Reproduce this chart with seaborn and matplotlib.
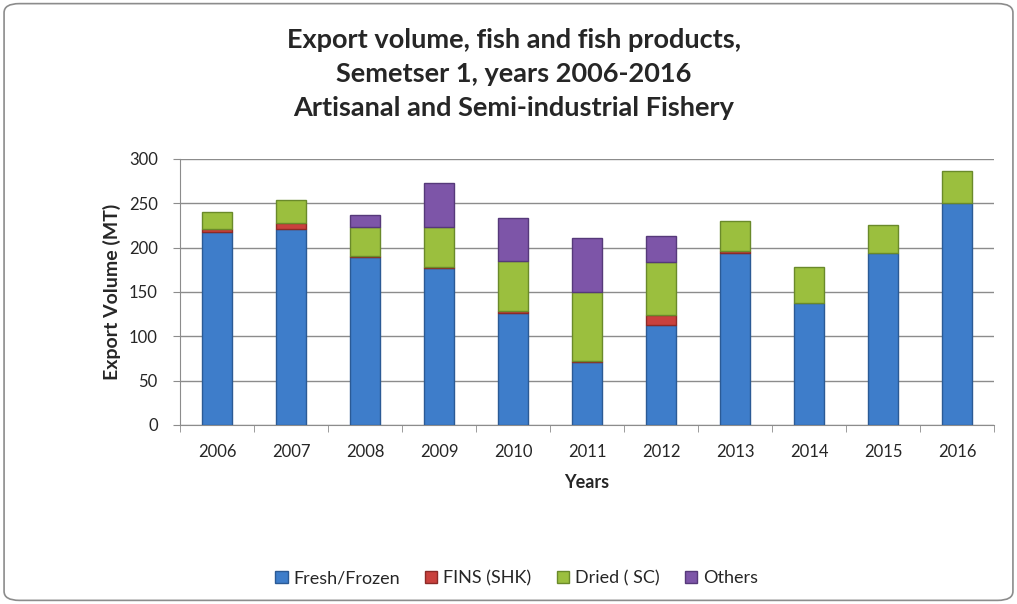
import pandas as pd
import matplotlib.pyplot as plt
import seaborn as sns
from matplotlib.patches import FancyBboxPatch, Patch

# values (MT)
years = ['2006', '2007', '2008', '2009', '2010', '2011', '2012', '2013', '2014', '2015', '2016']
fresh_frozen = [218, 221, 189, 177, 126, 71, 113, 194, 138, 194, 250]
fins_shk = [3, 7, 2, 1.5, 2, 1.5, 11, 2, 0, 0, 0]
dried_sc = [19, 26, 32, 45, 57, 77, 60, 34, 40, 31, 36]
others = [0, 0, 14, 49, 48, 61, 29, 0, 0, 0, 0]

series_names = ['Fresh/Frozen', 'FINS (SHK)', 'Dried ( SC)', 'Others']
colors = ['#3e7dca', '#c9413d', '#9bbf3e', '#7d55a8']
edges = ['#2b5a95', '#8c2a27', '#6a8a2a', '#56397a']

df = pd.DataFrame({'Year': years, 'Fresh/Frozen': fresh_frozen, 'FINS (SHK)': fins_shk,
                   'Dried ( SC)': dried_sc, 'Others': others})

sns.set_style('white')
plt.rcParams['font.family'] = ['Lato', 'DejaVu Sans']

fig = plt.figure(figsize=(10.17, 6.04), dpi=100)
ax = fig.add_axes([0.177, 0.2964, 0.8004, 0.4404])

# rounded chart border
fig.patches.append(FancyBboxPatch((0.004, 0.006), 0.992, 0.988, boxstyle='round,pad=0,rounding_size=0.015',
                                  transform=fig.transFigure, facecolor='white', edgecolor='#8c8c8c',
                                  linewidth=1.2, zorder=-1))

bottom = [0] * len(years)
for name, c, e in zip(series_names, colors, edges):
    sns.barplot(data=df, x='Year', y=name, bottom=bottom, color=c, edgecolor=e, linewidth=1,
                width=0.41, saturation=1, ax=ax, zorder=3)
    bottom = [b + v for b, v in zip(bottom, df[name])]

# hide outlines of empty segments
for p in ax.patches:
    if p.get_height() == 0:
        p.set_linewidth(0)

ax.set_ylim(0, 300)
ax.set_xlim(-0.5, len(years) - 0.5)
ax.set_yticks(range(0, 301, 50))
ax.yaxis.grid(True, color='#8c8c8c', linewidth=1)
ax.set_axisbelow(True)
for s in ['top', 'right']:
    ax.spines[s].set_visible(False)
for s in ['left', 'bottom']:
    ax.spines[s].set_color('#8c8c8c')
ax.set_xticks([i + 0.5 for i in range(-1, len(years))], minor=True)
ax.tick_params(axis='x', which='major', length=0, labelsize=12, pad=14)
ax.tick_params(axis='x', which='minor', length=5, color='#8c8c8c', direction='out', bottom=True)
ax.tick_params(axis='y', length=5, color='#8c8c8c', direction='out', left=True, labelsize=12, pad=11)

ax.set_xlabel('Years', fontsize=13, fontweight='bold', labelpad=10)
ax.set_ylabel('Export Volume (MT)', fontsize=14, fontweight='bold', labelpad=6)

fig.text(0.505, 0.878, 'Export volume, fish and fish products,\nSemetser 1, years 2006-2016\nArtisanal and Semi-industrial Fishery',
         ha='center', va='center', fontsize=19.5, fontweight='bold', linespacing=1.5)

handles = [Patch(facecolor=c, edgecolor=e, label=n) for n, c, e in zip(series_names, colors, edges)]
fig.legend(handles=handles, loc='center', bbox_to_anchor=(0.508, 0.043), ncol=4, frameon=False,
           fontsize=13, handlelength=0.67, handleheight=0.67, handletextpad=0.33, columnspacing=1.4)

plt.savefig('out.png', dpi=100)
